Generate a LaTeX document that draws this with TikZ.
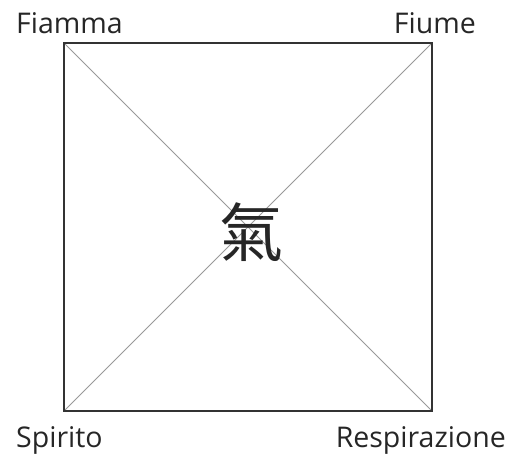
\documentclass[tikz,border=0pt]{standalone}
\usepackage{fontspec}
\setmainfont{Open Sans}
\newfontfamily\cjk{Noto Sans CJK TC}
\begin{document}
\begin{tikzpicture}[x=1pt,y=-1pt,
  lbl/.style={font=\fontsize{28.5}{32}\selectfont, text=black!85, inner sep=0pt},
  frame/.style={draw=black!80, line width=2pt},
  diag/.style={draw=black!40, line width=0.8pt}]
\useasboundingbox (0,0) rectangle (512,455);
\coordinate (tl) at (64,43);
\coordinate (tr) at (432,43);
\coordinate (bl) at (64,411);
\coordinate (br) at (432,411);
\draw[diag] (tl) -- (br);
\draw[diag] (tr) -- (bl);
\draw[frame] (tl) rectangle (br);
\node[font=\cjk\fontsize{64}{66}\selectfont, inner sep=0pt, text=black!85] (qi) at (251,232) {氣};
\node[lbl, anchor=base west] (f1) at (16,33) {Fiamma};
\node[lbl, anchor=base east] (f2) at (476,33) {Fiume};
\node[lbl, anchor=base west] (s) at (16,447) {Spirito};
\node[lbl, anchor=base east] (r) at (506,447) {Respirazione};
\end{tikzpicture}
\end{document}
